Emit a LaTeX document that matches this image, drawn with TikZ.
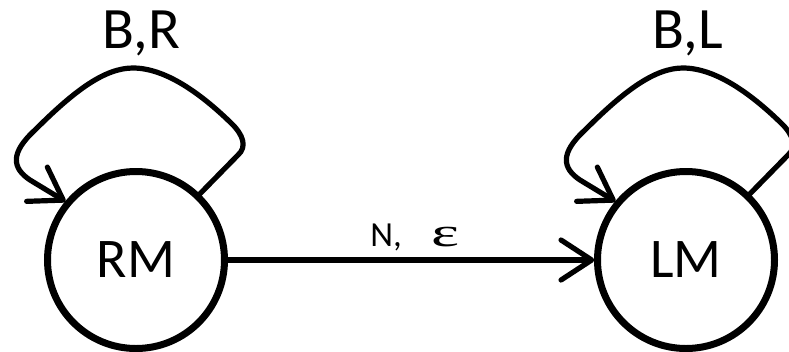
\documentclass[tikz,border=0pt]{standalone}
\usepackage{fontspec}
\setmainfont{Carlito}
\newfontfamily\epsfont{Liberation Serif}
\usepackage{graphicx}
\usetikzlibrary{arrows.meta}
\newcommand{\bigtxt}{\fontsize{44}{48}\selectfont}
\newcommand{\midtxt}{\fontsize{42}{46}\selectfont}
\begin{document}
\begin{tikzpicture}[x=0.75pt,y=-0.75pt,
  state/.style={circle,draw,line width=5.25pt,minimum size=132.75pt,inner sep=0pt,outer sep=0pt},
  edgeline/.style={line width=3.9pt,line cap=round,line join=round,-{Straight Barb[length=23pt,width=30pt,round]},shorten >=2.4pt},
  lbl/.style={anchor=base,inner sep=0pt}]
\useasboundingbox (0,0) rectangle (789,351);
\node[state] (RM) at (136,260) {\midtxt RM};
\node[state] (LM) at (686,260) {\midtxt LM};
\foreach \n in {RM,LM}
  \draw[edgeline] (\n.46) -- ([shift={(102,-105)}]\n.center)
    .. controls ([shift={(111,-113)}]\n.center) and ([shift={(108,-125)}]\n.center) .. ([shift={(94,-138)}]\n.center)
    .. controls ([shift={(64,-167)}]\n.center) and ([shift={(29,-192)}]\n.center) .. ([shift={(-3,-192)}]\n.center)
    .. controls ([shift={(-31,-192)}]\n.center) and ([shift={(-61,-170)}]\n.center) .. ([shift={(-101,-130)}]\n.center)
    .. controls ([shift={(-126,-107)}]\n.center) and ([shift={(-124,-92)}]\n.center) .. ([shift={(-106,-80)}]\n.center)
    -- (\n.140);
\draw[edgeline] (RM) -- (LM);
\node[lbl,anchor=base west] (NE) at (370,246) {\scalebox{0.6}{\bigtxt N,}\hspace{22pt}\resizebox{21pt}{14.5pt}{\epsfont ε}};
\node[lbl] (BR) at (141,48) {\bigtxt B,R};
\node[lbl] (BL) at (688,48) {\bigtxt B,L};
\end{tikzpicture}
\end{document}
